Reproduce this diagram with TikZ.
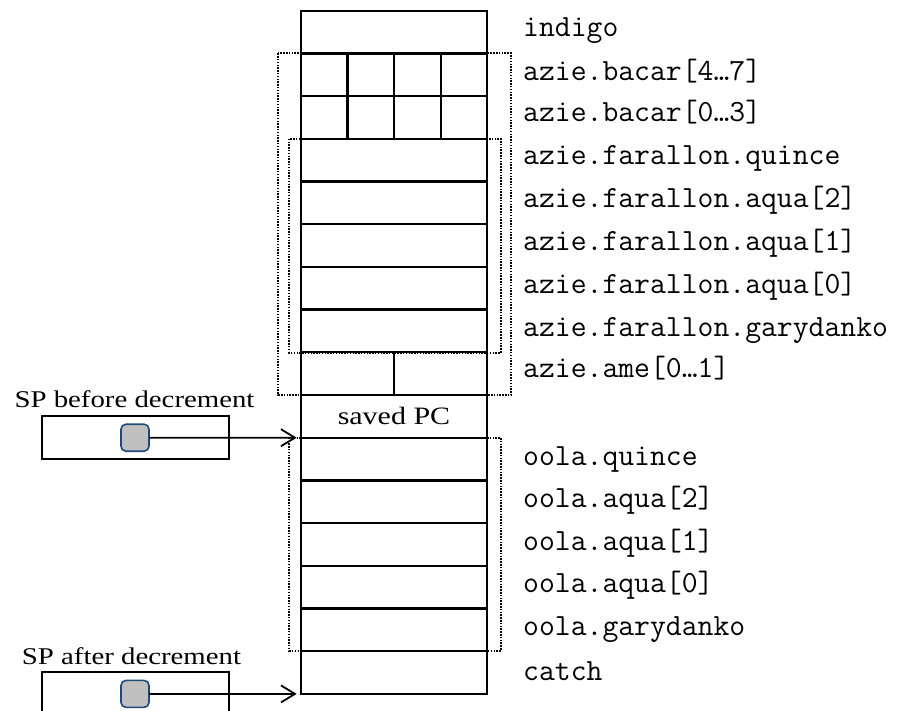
\documentclass[tikz,border=0pt]{standalone}
\usepackage{fontspec}
\setmainfont{Liberation Serif}[FakeStretch=1.2]
\usetikzlibrary{arrows.meta}
\definecolor{sqfill}{HTML}{C0C0C0}
\definecolor{sqdraw}{HTML}{1F497D}
\begin{document}
\begin{tikzpicture}[x=1pt,y=-1pt,
  cell/.style={draw, line width=2.3pt, minimum height=42.7pt, inner sep=0pt, outer sep=0pt, anchor=north west},
  full/.style={cell, minimum width=186.6pt},
  quarter/.style={cell, minimum width=46.65pt},
  half/.style={cell, minimum width=93.3pt},
  lbl/.style={anchor=base west, inner sep=0pt, font=\ttfamily\fontsize{30.8}{34}\selectfont},
  sptext/.style={anchor=base, inner sep=0pt, font=\fontsize{24}{28}\selectfont},
  spbox/.style={draw, line width=1.7pt, minimum width=187pt, minimum height=43pt, inner sep=0pt, outer sep=0pt},
  sq/.style={draw=sqdraw, fill=sqfill, rounded corners=5pt, minimum width=28pt, minimum height=27pt, line width=1.6pt, inner sep=0pt, outer sep=0pt},
  ptr/.style={line width=1.8pt, -{Straight Barb[length=14pt,width=17pt]}, shorten >=4pt},
  dotbox/.style={line width=1.7pt, dash pattern=on 1.5pt off 1.3pt}
]
\useasboundingbox (0,0) rectangle (902,710);
\clip (0,0) rectangle (902,710);

% dotted grouping boxes
\draw[dotbox] (278.3,53.3) rectangle (511,395);
\draw[dotbox] (289.3,138.7) rectangle (500.7,352.7);
\draw[dotbox] (289.3,437.7) rectangle (500.7,650.7);

% stack rows
\foreach \i in {1,4,5,6,7,8,11,12,13,14,15,16}
  \node[full] (r\i) at (300.7,{10.7+42.7*(\i-1)}) {};
\node[full, font=\fontsize{25}{29}\selectfont] (r10) at (300.7,{10.7+42.7*9}) {saved PC};
\node[quarter] (r2a) at (300.7,53.4) {};
\node[quarter] (r2b) at (347.35,53.4) {};
\node[quarter] (r2c) at (394.0,53.4) {};
\node[quarter] (r2d) at (440.65,53.4) {};
\node[quarter] (r3a) at (300.7,96.1) {};
\node[quarter] (r3b) at (347.35,96.1) {};
\node[quarter] (r3c) at (394.0,96.1) {};
\node[quarter] (r3d) at (440.65,96.1) {};
\node[half] (r9a) at (300.7,352.3) {};
\node[half] (r9b) at (394.0,352.3) {};

% labels
\node[lbl] (l1) at (523,36.5) {indigo};
\node[lbl] (l2) at (523,80) {azie.bacar[4…7]};
\node[lbl] (l3) at (523,121.5) {azie.bacar[0…3]};
\node[lbl] (l4) at (523,164.5) {azie.farallon.quince};
\node[lbl] (l5) at (523,207.5) {azie.farallon.aqua[2]};
\node[lbl] (l6) at (523,250.3) {azie.farallon.aqua[1]};
\node[lbl] (l7) at (523,293.2) {azie.farallon.aqua[0]};
\node[lbl] (l8) at (523,336) {azie.farallon.garydanko};
\node[lbl] (l9) at (523,377.5) {azie.ame[0…1]};
\node[lbl] (l11) at (523,465) {oola.quince};
\node[lbl] (l12) at (523,507.5) {oola.aqua[2]};
\node[lbl] (l13) at (523,550) {oola.aqua[1]};
\node[lbl] (l14) at (523,592.5) {oola.aqua[0]};
\node[lbl] (l15) at (523,635) {oola.garydanko};
\node[lbl] (l16) at (523,680.5) {catch};

% stack pointers
\node[sptext] (t1) at (134.5,407.5) {SP before decrement};
\node[spbox] (b1) at (135.2,437.5) {};
\node[sq] (s1) at (135,437.7) {};
\draw[ptr] (s1.east) -- (r11.north west);

\node[sptext] (t2) at (131.5,664) {SP after decrement};
\node[spbox] (b2) at (135.2,693.8) {};
\node[sq] (s2) at (135,693.9) {};
\draw[ptr] (s2.east) -- (r16.south west);
\end{tikzpicture}
\end{document}
